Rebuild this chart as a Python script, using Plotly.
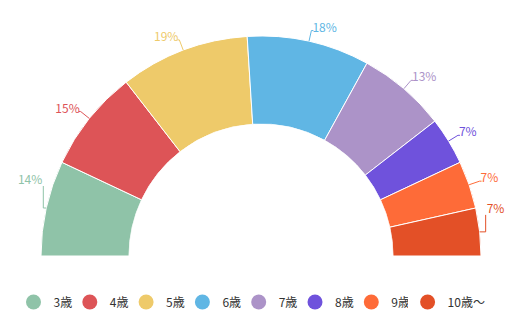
import math
import plotly.graph_objects as go

categories = ["3歳", "4歳", "5歳", "6歳", "7歳", "8歳", "9歳", "10歳〜"]
percents = [14, 15, 19, 18, 13, 7, 7, 7]
colors = ["#8fc3a8", "#dd5457", "#eeca6a", "#60b6e4", "#ac93c8", "#6f52dc", "#fe6b38", "#e35027"]
label_lift = {"3歳": 22, "10歳〜": 17}  # label nudges (px) to avoid the baseline

OUTER = 220.0      # outer ring radius (px)
INNER = 132.0      # inner ring radius (px)
FULL = 250.0       # polar frame radius (px), leaves room for labels
HOLE = INNER / FULL
RMAX = (FULL - INNER) / (OUTER - INNER)

total = sum(percents)
mids, spans = [], []
cum = 0
for v in percents:
    mids.append(180.0 - (cum + v / 2) * 180.0 / total)
    spans.append(180.0 * v / total)
    cum += v


def to_r(rho):
    return (rho - INNER) / (OUTER - INNER)


def to_polar(x, y):
    return to_r(math.hypot(x, y)), math.degrees(math.atan2(y, x))


fig = go.Figure()
fig.add_trace(go.Barpolar(
    r=[1] * len(percents), theta=mids, width=spans,
    marker=dict(color=colors, line=dict(color="white", width=1)),
    showlegend=False, hoverinfo="skip",
))

txt_r, txt_t, txt_pos, txt = [], [], [], []
for cat, v, th, c in zip(categories, percents, mids, colors):
    a = math.radians(th)
    right = math.cos(a) >= 0
    sgn = 1 if right else -1
    lift = label_lift.get(cat, 0)
    x0, y0 = OUTER * math.cos(a), OUTER * math.sin(a)
    if lift:
        hx = 6 if right else 3
        pts = [(x0, y0), (x0 + hx * sgn, y0), (x0 + hx * sgn, y0 + lift)]
        tx, ty = x0 + (hx + 1) * sgn, y0 + lift + 5
    else:
        rho1 = OUTER + 11
        x1, y1 = rho1 * math.cos(a), rho1 * math.sin(a)
        pts = [(x0, y0), (x1, y1), (x1 + 2 * sgn, y1)]
        tx, ty = x1 + 1 * sgn, y1 + 2
    pol = [to_polar(x, y) for x, y in pts]
    fig.add_trace(go.Scatterpolar(r=[p[0] for p in pol], theta=[p[1] for p in pol], mode="lines",
                                  line=dict(color=c, width=1), cliponaxis=False,
                                  showlegend=False, hoverinfo="skip"))
    tr, tt = to_polar(tx, ty)
    txt_r.append(tr); txt_t.append(tt)
    txt_pos.append("middle right" if right else "middle left")
    txt.append(f"{v}%")

fig.add_trace(go.Scatterpolar(
    r=txt_r, theta=txt_t, mode="text", text=txt, textposition=txt_pos,
    textfont=dict(color=colors, size=12, family="Noto Sans CJK JP"),
    cliponaxis=False, showlegend=False, hoverinfo="skip",
))

for i, (cat, c) in enumerate(zip(categories, colors)):
    fig.add_trace(go.Scatterpolar(r=[None], theta=[None], mode="markers", name=cat,
                                  legend="legend2" if i == len(categories) - 1 else "legend",
                                  marker=dict(color=c, size=15, symbol="circle")))

W, H = 519, 327
cx, cy = 261, 256
LEG_Y = (H - 302) / H
fig.update_layout(
    width=W, height=H,
    margin=dict(l=0, r=0, t=0, b=0),
    paper_bgcolor="white", plot_bgcolor="white",
    font=dict(family="Noto Sans CJK JP", size=12, color="#333"),
    polar=dict(
        domain=dict(x=[(cx - FULL) / W, (cx + FULL) / W],
                    y=[(H - cy) / H, (H - cy + FULL) / H]),
        sector=[0, 180], hole=HOLE, bgcolor="rgba(0,0,0,0)",
        radialaxis=dict(visible=False, range=[0, RMAX]),
        angularaxis=dict(visible=False),
        bargap=0,
    ),
    legend=dict(orientation="h", x=13.5 / W, xanchor="left", y=LEG_Y, yanchor="middle",
                font=dict(size=12, color="#333"), itemwidth=30, entrywidth=11.3),
    legend2=dict(orientation="h", x=(13.5 + 7 * 56.3) / W, xanchor="left", y=LEG_Y, yanchor="middle",
                 font=dict(size=12, color="#333"), itemwidth=30),
)

fig.write_html("out.html")
